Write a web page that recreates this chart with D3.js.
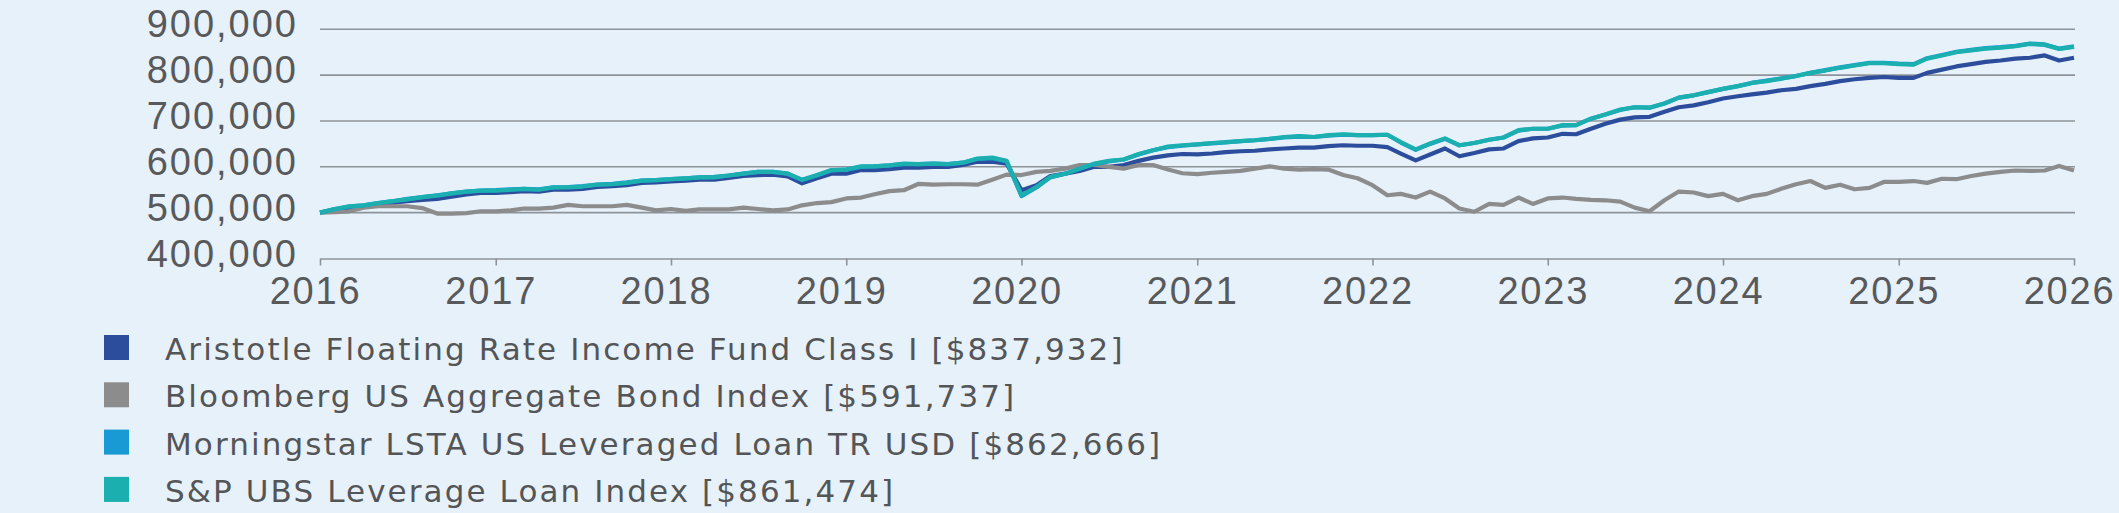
<!DOCTYPE html>
<html>
<head>
<meta charset="utf-8">
<script src="https://cdn.jsdelivr.net/npm/d3@7"></script>
<style>
  html, body { margin: 0; padding: 0; background: #e7f1fa; }
  svg { display: block; }
  .tick text { font-family: "Liberation Sans", Arial, sans-serif; fill: #58595b; }
</style>
</head>
<body>
<svg id="chart" width="2119" height="513"></svg>
<script>
// values in thousands of dollars, one point per month, Jan 2016 .. Jan 2026
var aristotle = [500,506,511,515,519,522,525,528,530,535,
  540,543,543,545,547,546,550,550,552,556,
  558,560,565,566,568,570,572,572,576,580,
  582,583,579,564,575,585,585,593,593,595,
  598,598,600,600,604,611,611,607,549,560,
  580,585,591,600,600,604,613,620,625,628,
  627,629,632,634,635,638,640,642,642,645,
  647,646,646,643,629,614,627,640,623,630,
  638,640,656,662,664,672,671,683,694,703,
  708,709,720,730,734,741,749,754,758,762,
  767,770,776,781,787,791,794,796,794,794,
  805,812,819,824,829,832,836,838,843,832,
  837.932];
var bloomberg = [500,501,503,511,514,514,514,510,498,498,
  499,503,503,505,509,509,511,517,514,514,
  514,517,511,505,508,504,507,507,507,511,
  508,505,507,516,521,523,531,533,540,547,
  549,563,561,562,562,561,572,583,582,589,
  591,596,604,604,600,596,604,604,594,586,
  584,587,589,591,596,601,596,594,595,594,
  582,575,560,538,541,533,546,531,509,502,
  519,517,533,519,531,533,530,528,527,524,
  511,503,527,546,544,536,541,527,536,541,
  552,562,569,554,561,551,554,567,567,569,
  565,574,573,580,585,589,592,591,592,602,
  591.737];
var morningstar = [500,508,513,516,521,525,530,534,538,542,
  546,548,549,551,552,551,555,556,558,561,
  563,566,570,571,573,575,577,578,581,585,
  589,589,585,571,581,592,594,600,601,603,
  606,606,607,606,609,617,619,612,536,555,
  577,585,596,606,612,616,627,636,643,646,
  649,651,653,656,658,661,664,666,665,668,
  670,669,669,670,653,637,650,661,647,652,
  659,664,679,683,683,690,691,705,714,724,
  730,729,738,751,756,763,770,776,783,788,
  793,798,805,811,817,822,827,827,825,824,
  837,844,851,855,859,861,864,869,867,858,
  862.666];
var spubs = [500,508,514,516,521,525,529,534,537,542,
  546,548,548,550,552,550,555,555,557,561,
  562,565,570,571,573,575,577,577,581,585,
  589,589,585,572,582,593,594,601,601,603,
  607,606,607,606,609,618,620,613,538,556,
  578,585,596,607,613,616,628,636,644,647,
  649,652,654,656,658,661,665,667,665,669,
  671,669,669,670,654,638,651,662,647,652,
  659,664,680,683,683,691,691,705,714,725,
  730,729,738,751,756,763,770,776,783,787,
  792,798,805,810,816,821,826,826,824,823,
  836,843,850,854,858,860,863,868,866,857,
  861.474];

var seriesNames = ["Aristotle Floating Rate Income Fund Class I [$837,932]",
  "Bloomberg US Aggregate Bond Index [$591,737]",
  "Morningstar LSTA US Leveraged Loan TR USD [$862,666]",
  "S&P UBS Leverage Loan Index [$861,474]"];
var seriesColors = ["#2c4d9c", "#8c8c8c", "#1a9ad5", "#1bafb0"];
var yTicks = [400, 500, 600, 700, 800, 900];
var xYears = [2016, 2017, 2018, 2019, 2020, 2021, 2022, 2023, 2024, 2025, 2026];

var months = d3.timeMonth.range(new Date(2016, 0, 1), new Date(2026, 0, 2));

var svg = d3.select("#chart");

var x = d3.scaleTime()
  .domain([new Date(2016, 0, 1), new Date(2026, 0, 1)])
  .range([320, 2074]);
var y = d3.scaleLinear()
  .domain([400, 900])
  .range([258.5, 29.3]);

// horizontal gridlines
svg.append("g")
  .selectAll("line")
  .data(yTicks.slice(1))
  .enter().append("line")
  .attr("x1", 320).attr("x2", 2075)
  .attr("y1", function(d) { return y(d); })
  .attr("y2", function(d) { return y(d); })
  .style("stroke", "#8e9399")
  .style("stroke-width", 1.6);

// y axis labels
var yAxis = svg.append("g")
  .attr("transform", "translate(320,0)")
  .call(d3.axisLeft(y).tickValues(yTicks).tickSize(0).tickPadding(22)
    .tickFormat(function(d) { return d3.format(",")(d * 1000); }));
yAxis.select(".domain").remove();
yAxis.selectAll("text")
  .attr("dy", "0.2em")
  .style("font-size", "38px")
  .style("letter-spacing", "2px");

// x axis
var xAxis = svg.append("g")
  .attr("transform", "translate(0," + y(400) + ")")
  .call(d3.axisBottom(x)
    .tickValues(xYears.map(function(yr) { return new Date(yr, 0, 1); }))
    .tickSize(7).tickSizeOuter(0).tickPadding(12)
    .tickFormat(d3.timeFormat("%Y")));
xAxis.select(".domain").style("stroke", "#8e9399").style("stroke-width", 1.6);
xAxis.selectAll(".tick line").style("stroke", "#8e9399").style("stroke-width", 1.6);
xAxis.selectAll("text")
  .attr("dx", -5)
  .style("font-size", "38px")
  .style("letter-spacing", "1.8px");

// lines
var line = d3.line()
  .x(function(d, i) { return x(months[i]); })
  .y(function(d) { return y(d); });

var allSeries = [aristotle, bloomberg, morningstar, spubs];
svg.append("g")
  .selectAll("path")
  .data(allSeries)
  .enter().append("path")
  .attr("d", line)
  .style("fill", "none")
  .style("stroke", function(d, i) { return seriesColors[i]; })
  .style("stroke-width", 4.2)
  .style("stroke-linejoin", "round");

// legend
var legend = svg.append("g")
  .selectAll("g")
  .data(seriesNames)
  .enter().append("g")
  .attr("transform", function(d, i) { return "translate(104," + (335 + i * 47.3) + ")"; });

legend.append("rect")
  .attr("width", 25).attr("height", 25)
  .style("fill", function(d, i) { return seriesColors[i]; });

legend.append("text")
  .attr("x", 61).attr("y", 25)
  .text(function(d) { return d; })
  .style("font-family", "'DejaVu Sans', sans-serif")
  .style("font-size", "31px")
  .style("letter-spacing", "2.1px")
  .style("fill", "#545557");
</script>
</body>
</html>
